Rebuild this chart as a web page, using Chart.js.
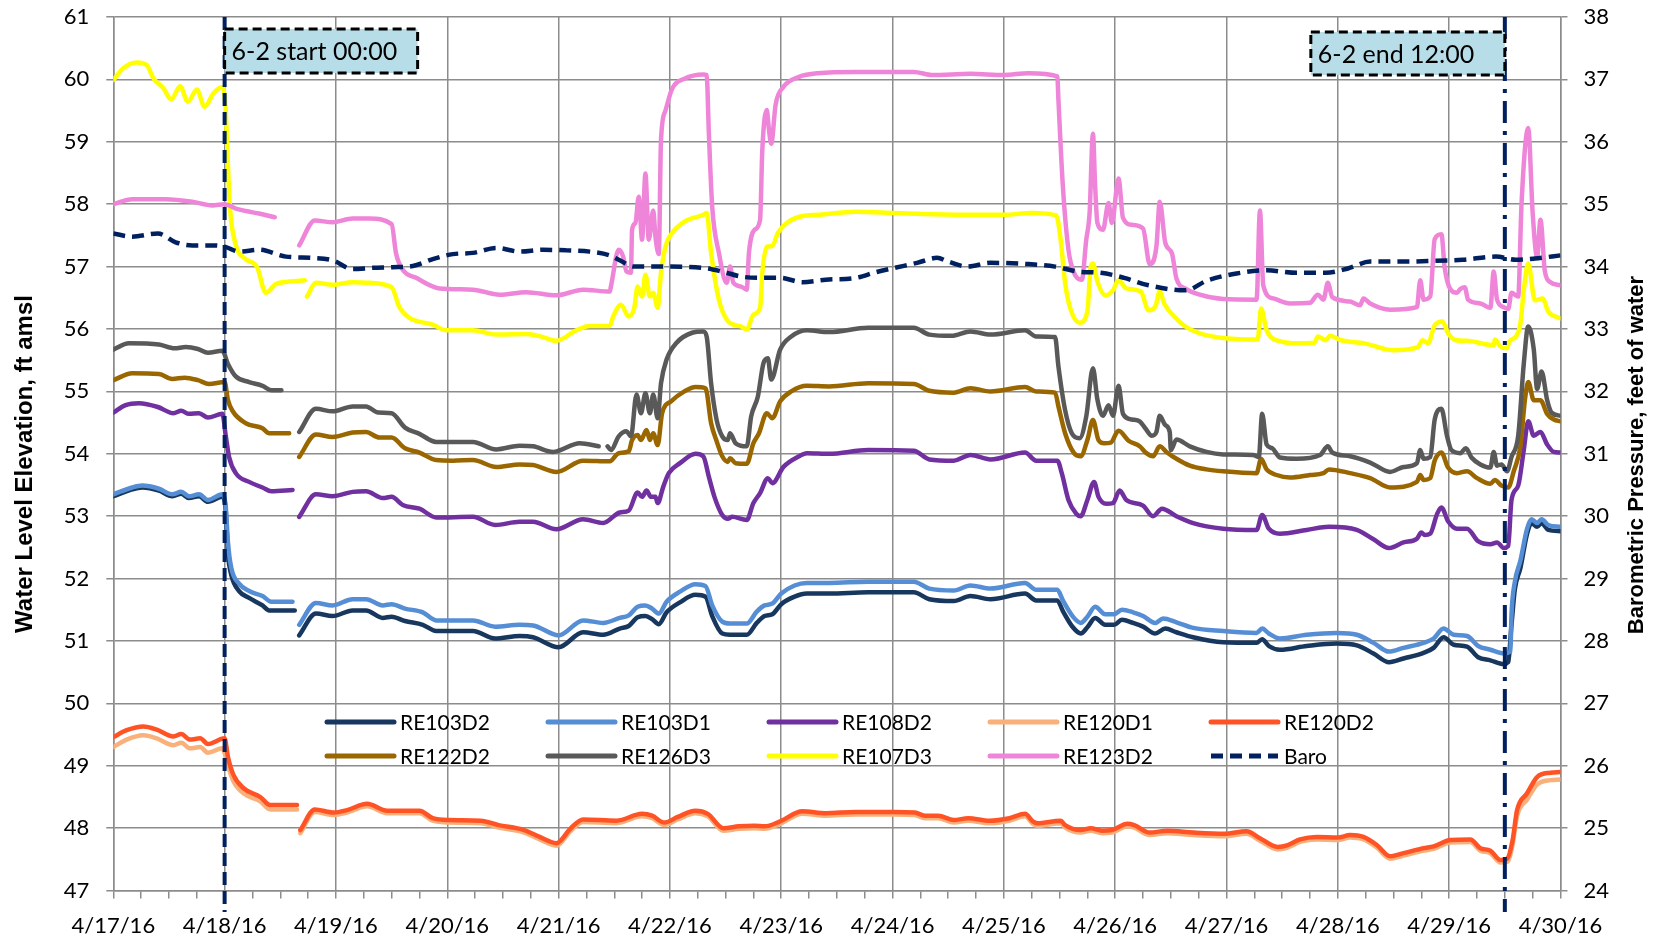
<!DOCTYPE html>
<html lang="en">
<head>
  <meta charset="UTF-8" />
  <title>Water level and barometric pressure</title>
  <script src="https://cdn.jsdelivr.net/npm/chart.js"></script>
  <style>
    html, body { margin: 0; padding: 0; background: #ffffff; }
    #wrap { width: 1654px; height: 941px; position: relative; }
  </style>
</head>
<body>
  <div id="wrap"><canvas id="levels"></canvas></div>
<script>
// x values are days after 4/17/16 00:00, y values are ft amsl (Baro: feet of water)
// a null value breaks the line where the logger has no record
const dateLabels = ['4/17/16', '4/18/16', '4/19/16', '4/20/16', '4/21/16', '4/22/16', '4/23/16',
  '4/24/16', '4/25/16', '4/26/16', '4/27/16', '4/28/16', '4/29/16', '4/30/16'];

const re103d2 = [[0,53.32],[0.17,53.43],[0.26,53.46],[0.41,53.41],[0.53,53.32],[0.61,53.36],[0.68,53.29],[0.77,53.32],[0.85,53.23],[0.98,53.31],[1.01,53.09],[1.03,52.4],[1.06,52.06],[1.13,51.8],[1.22,51.69],[1.34,51.57],[1.4,51.49],[1.63,51.49],[1.65,null],
  [1.67,51.09],[1.82,51.44],[1.97,51.4],[2.15,51.49],[2.27,51.49],[2.42,51.37],[2.5,51.39],[2.62,51.32],[2.78,51.26],[2.9,51.16],[3.23,51.16],[3.43,51.04],[3.65,51.08],[3.77,51.06],[4.0,50.9],[4.22,51.14],[4.4,51.1],[4.55,51.2],
  [4.63,51.24],[4.71,51.38],[4.78,51.4],[4.84,51.35],[4.9,51.27],[4.97,51.46],[5.09,51.62],[5.23,51.74],[5.32,51.71],[5.38,51.4],[5.47,51.12],[5.54,51.1],[5.69,51.1],[5.78,51.29],[5.85,51.4],[5.92,51.43],[6.0,51.59],[6.12,51.71],[6.23,51.76],[6.43,51.76],[6.78,51.78],[7.19,51.78],[7.33,51.67],[7.55,51.64],[7.7,51.72],[7.88,51.67],[8.19,51.76],[8.29,51.65],[8.48,51.65],[8.53,51.48],[8.62,51.22],[8.69,51.12],[8.75,51.22],[8.82,51.37],[8.91,51.26],[8.99,51.26],[9.06,51.34],[9.16,51.29],[9.25,51.23],[9.36,51.12],[9.45,51.2],[9.55,51.14],[9.7,51.06],[9.97,50.98],[10.27,50.97],[10.32,51.03],[10.38,50.92],[10.48,50.86],[10.72,50.92],[10.99,50.96],[11.17,50.93],[11.32,50.8],[11.46,50.66],[11.59,50.72],[11.77,50.81],[11.86,50.89],[11.95,51.06],[12.04,50.94],[12.16,50.91],[12.26,50.74],[12.37,50.69],[12.49,50.63],[12.53,50.66],[12.56,51.26],[12.59,51.83],[12.64,52.17],[12.7,52.72],[12.74,52.89],[12.79,52.83],[12.83,52.89],[12.89,52.78],[13.0,52.76]];

const re103d1 = [[0,53.35],[0.17,53.46],[0.26,53.49],[0.41,53.44],[0.53,53.35],[0.61,53.39],[0.68,53.32],[0.77,53.35],[0.85,53.26],[0.98,53.35],[1.01,53.15],[1.03,52.58],[1.06,52.17],[1.13,51.92],[1.22,51.8],[1.34,51.72],[1.42,51.63],[1.61,51.63],[1.64,null],
  [1.67,51.26],[1.82,51.61],[1.97,51.57],[2.15,51.67],[2.27,51.67],[2.42,51.57],[2.5,51.59],[2.62,51.52],[2.78,51.46],[2.9,51.33],[3.23,51.33],[3.43,51.23],[3.65,51.26],[3.77,51.25],[4.0,51.09],[4.22,51.33],[4.4,51.29],[4.55,51.37],
  [4.63,51.41],[4.71,51.55],[4.78,51.57],[4.84,51.52],[4.9,51.44],[4.97,51.63],[5.09,51.79],[5.23,51.91],[5.32,51.88],[5.38,51.57],[5.47,51.31],[5.54,51.28],[5.69,51.28],[5.78,51.47],[5.85,51.57],[5.92,51.6],[6.0,51.76],[6.12,51.89],[6.23,51.93],[6.43,51.93],[6.78,51.95],[7.19,51.95],[7.33,51.84],[7.55,51.81],[7.7,51.89],[7.88,51.84],[8.19,51.93],[8.29,51.82],[8.48,51.82],[8.53,51.65],[8.62,51.39],[8.69,51.29],[8.75,51.39],[8.82,51.55],[8.91,51.43],[8.99,51.43],[9.06,51.5],[9.16,51.46],[9.25,51.4],[9.36,51.29],[9.43,51.36],[9.55,51.3],[9.7,51.21],[9.97,51.16],[10.27,51.13],[10.32,51.2],[10.38,51.12],[10.48,51.04],[10.72,51.1],[10.99,51.13],[11.17,51.1],[11.32,50.97],[11.46,50.83],[11.59,50.89],[11.77,50.97],[11.86,51.04],[11.95,51.2],[12.04,51.1],[12.16,51.08],[12.26,50.92],[12.37,50.86],[12.49,50.8],[12.55,50.83],[12.56,51.43],[12.59,51.95],[12.64,52.29],[12.7,52.8],[12.74,52.95],[12.79,52.89],[12.83,52.95],[12.89,52.86],[13.0,52.83]];

const re108d2 = [[0,54.66],[0.11,54.78],[0.23,54.81],[0.4,54.75],[0.54,54.65],[0.61,54.69],[0.68,54.64],[0.77,54.65],[0.85,54.58],[0.98,54.64],[1.01,54.29],[1.04,53.95],[1.1,53.69],[1.22,53.55],[1.34,53.46],[1.42,53.4],[1.61,53.42],[1.64,null],
  [1.67,52.99],[1.82,53.35],[1.97,53.32],[2.15,53.39],[2.27,53.4],[2.42,53.29],[2.5,53.31],[2.6,53.18],[2.75,53.12],[2.9,52.98],[3.23,52.99],[3.43,52.86],[3.65,52.91],[3.77,52.91],[3.98,52.79],[4.22,52.95],[4.4,52.89],[4.55,53.06],
  [4.63,53.09],[4.71,53.38],[4.75,53.31],[4.79,53.41],[4.83,53.31],[4.87,53.31],[4.89,53.21],[4.94,53.47],[4.99,53.69],[5.09,53.85],[5.23,54.0],[5.3,53.96],[5.35,53.63],[5.4,53.31],[5.47,53.02],[5.52,52.96],[5.56,52.99],[5.69,52.94],[5.75,53.21],[5.81,53.37],[5.88,53.61],[5.92,53.53],[6.02,53.79],[6.16,53.96],[6.23,54.01],[6.43,54.0],[6.78,54.06],[7.19,54.05],[7.33,53.91],[7.55,53.89],[7.7,53.98],[7.88,53.91],[8.19,54.02],[8.29,53.89],[8.48,53.89],[8.52,53.69],[8.58,53.26],[8.65,53.04],[8.69,53.0],[8.75,53.26],[8.81,53.55],[8.85,53.31],[8.92,53.2],[8.98,53.21],[9.04,53.41],[9.1,53.26],[9.25,53.17],[9.34,53.0],[9.42,53.12],[9.55,53.0],[9.7,52.89],[9.97,52.8],[10.27,52.78],[10.32,53.02],[10.38,52.8],[10.48,52.72],[10.72,52.78],[10.92,52.83],[11.17,52.78],[11.32,52.63],[11.46,52.49],[11.59,52.58],[11.71,52.64],[11.75,52.74],[11.78,52.7],[11.83,52.72],[11.89,53.03],[11.93,53.14],[11.99,52.92],[12.07,52.8],[12.16,52.8],[12.26,52.6],[12.37,52.55],[12.43,52.58],[12.49,52.49],[12.53,52.52],[12.56,53.26],[12.62,53.49],[12.67,54.06],[12.71,54.52],[12.76,54.29],[12.82,54.35],[12.88,54.15],[12.94,54.03],[13.0,54.02]];

const re120d1 = [[0,49.3],[0.12,49.42],[0.27,49.49],[0.39,49.44],[0.54,49.33],[0.61,49.37],[0.69,49.28],[0.78,49.3],[0.85,49.21],[0.98,49.28],[1.03,49.0],[1.08,48.75],[1.17,48.56],[1.32,48.43],[1.41,48.3],[1.65,48.3],[1.66,null],
  [1.68,47.92],[1.81,48.26],[1.98,48.21],[2.1,48.25],[2.28,48.35],[2.46,48.24],[2.75,48.24],[2.87,48.12],[3.02,48.09],[3.3,48.08],[3.46,48.01],[3.69,47.93],[3.83,47.82],[3.98,47.72],[4.11,47.96],[4.22,48.1],[4.52,48.08],[4.75,48.19],[4.84,48.16],[4.95,48.05],[5.07,48.14],[5.23,48.24],[5.34,48.19],[5.48,47.96],[5.62,47.99],[5.76,48.0],[5.85,47.99],[5.99,48.07],[6.19,48.23],[6.4,48.2],[6.67,48.22],[7.0,48.22],[7.2,48.21],[7.29,48.16],[7.41,48.16],[7.55,48.09],[7.68,48.12],[7.87,48.08],[8.05,48.12],[8.19,48.19],[8.26,48.07],[8.3,48.04],[8.51,48.08],[8.55,48.01],[8.69,47.93],[8.78,47.96],[8.88,47.92],[8.97,47.93],[9.11,48.03],[9.17,48.01],[9.31,47.89],[9.47,47.92],[9.7,47.89],[9.98,47.87],[10.18,47.91],[10.3,47.8],[10.46,47.66],[10.55,47.69],[10.66,47.78],[10.81,47.82],[11.0,47.81],[11.11,47.85],[11.23,47.82],[11.35,47.69],[11.47,47.51],[11.59,47.56],[11.77,47.64],[11.86,47.67],[12.01,47.77],[12.19,47.78],[12.28,47.64],[12.37,47.6],[12.46,47.45],[12.52,47.46],[12.57,47.74],[12.61,48.2],[12.7,48.46],[12.79,48.7],[12.91,48.77],[13.0,48.78]];

const re120d2 = [[0,49.46],[0.12,49.57],[0.27,49.63],[0.39,49.58],[0.54,49.47],[0.61,49.51],[0.69,49.42],[0.78,49.44],[0.85,49.35],[1.0,49.44],[1.03,49.14],[1.08,48.85],[1.17,48.64],[1.32,48.5],[1.41,48.37],[1.65,48.37],[1.66,null],
  [1.68,47.97],[1.81,48.3],[1.98,48.25],[2.1,48.29],[2.28,48.39],[2.46,48.28],[2.75,48.28],[2.87,48.16],[3.02,48.13],[3.3,48.12],[3.46,48.05],[3.69,47.97],[3.83,47.86],[3.98,47.76],[4.11,48.0],[4.22,48.14],[4.52,48.12],[4.75,48.23],[4.84,48.2],[4.95,48.09],[5.07,48.18],[5.23,48.28],[5.34,48.23],[5.48,48.0],[5.62,48.03],[5.76,48.04],[5.85,48.03],[5.99,48.11],[6.19,48.27],[6.4,48.24],[6.67,48.26],[7.0,48.26],[7.2,48.25],[7.29,48.2],[7.41,48.2],[7.55,48.13],[7.68,48.16],[7.87,48.12],[8.05,48.16],[8.19,48.23],[8.26,48.11],[8.3,48.08],[8.51,48.12],[8.55,48.05],[8.69,47.97],[8.78,48.0],[8.88,47.96],[8.97,47.97],[9.11,48.07],[9.17,48.05],[9.31,47.93],[9.47,47.96],[9.7,47.93],[9.98,47.91],[10.18,47.95],[10.3,47.84],[10.46,47.7],[10.55,47.73],[10.66,47.82],[10.81,47.86],[11.0,47.85],[11.11,47.89],[11.23,47.86],[11.35,47.73],[11.47,47.55],[11.59,47.6],[11.77,47.68],[11.86,47.71],[12.01,47.81],[12.19,47.82],[12.28,47.68],[12.37,47.64],[12.46,47.49],[12.52,47.51],[12.57,47.81],[12.61,48.29],[12.7,48.56],[12.79,48.82],[12.91,48.89],[13.0,48.9]];

const re122d2 = [[0,55.18],[0.17,55.29],[0.41,55.28],[0.53,55.2],[0.64,55.22],[0.76,55.18],[0.86,55.12],[1.0,55.15],[1.03,54.86],[1.07,54.69],[1.19,54.49],[1.34,54.41],[1.4,54.33],[1.58,54.33],[1.62,null],
  [1.67,53.95],[1.82,54.31],[1.97,54.27],[2.15,54.34],[2.27,54.35],[2.39,54.26],[2.5,54.26],[2.62,54.09],[2.75,54.02],[2.9,53.9],[3.05,53.89],[3.23,53.9],[3.44,53.79],[3.65,53.83],[3.77,53.82],[3.98,53.71],[4.22,53.89],[4.46,53.88],[4.54,54.01],[4.63,54.04],[4.66,54.22],[4.71,54.3],[4.74,54.22],[4.79,54.38],[4.82,54.22],[4.85,54.33],[4.89,54.14],[4.93,54.65],[5.01,54.84],[5.13,55.0],[5.23,55.07],[5.32,55.05],[5.37,54.49],[5.42,54.2],[5.47,53.96],[5.52,53.87],[5.54,53.93],[5.59,53.85],[5.69,53.84],[5.75,54.17],[5.8,54.33],[5.87,54.65],[5.92,54.57],[5.99,54.84],[6.09,55.0],[6.23,55.09],[6.43,55.08],[6.78,55.13],[7.19,55.12],[7.33,55.01],[7.55,54.98],[7.7,55.05],[7.88,55.0],[8.19,55.07],[8.29,55.0],[8.46,54.98],[8.49,54.76],[8.55,54.33],[8.63,54.01],[8.69,53.96],[8.75,54.22],[8.8,54.54],[8.85,54.22],[8.9,54.17],[8.96,54.18],[9.03,54.37],[9.12,54.21],[9.22,54.12],[9.28,54.01],[9.34,53.96],[9.4,54.12],[9.46,54.03],[9.55,53.92],[9.67,53.81],[9.82,53.75],[9.97,53.72],[10.27,53.69],[10.31,53.92],[10.36,53.75],[10.45,53.66],[10.57,53.62],[10.75,53.66],[10.87,53.69],[10.92,53.75],[11.11,53.69],[11.29,53.61],[11.47,53.46],[11.71,53.55],[11.74,53.66],[11.77,53.58],[11.83,53.61],[11.87,53.89],[11.93,54.02],[11.99,53.78],[12.07,53.69],[12.16,53.72],[12.25,53.61],[12.37,53.52],[12.41,53.58],[12.47,53.49],[12.53,53.46],[12.58,53.72],[12.64,54.12],[12.68,54.86],[12.71,55.15],[12.76,54.86],[12.82,54.86],[12.88,54.64],[12.94,54.55],[13.0,54.52]];

const re126d3 = [[0,55.67],[0.14,55.77],[0.41,55.75],[0.55,55.69],[0.65,55.71],[0.76,55.68],[0.85,55.62],[0.98,55.65],[1.03,55.44],[1.1,55.24],[1.22,55.15],[1.34,55.09],[1.42,55.02],[1.51,55.02],[1.55,null],
  [1.67,54.35],[1.82,54.72],[1.97,54.68],[2.15,54.76],[2.27,54.76],[2.38,54.66],[2.5,54.65],[2.62,54.42],[2.75,54.32],[2.9,54.19],[3.23,54.19],[3.44,54.07],[3.65,54.13],[3.77,54.12],[3.95,54.03],[4.19,54.17],[4.36,54.12],[4.4,null],
  [4.44,54.12],[4.47,54.06],[4.54,54.28],[4.61,54.36],[4.65,54.28],[4.7,54.95],[4.74,54.65],[4.78,54.97],[4.82,54.65],[4.85,54.95],[4.89,54.57],[4.92,55.13],[4.97,55.51],[5.06,55.78],[5.2,55.94],[5.3,55.96],[5.33,55.88],[5.37,55.13],[5.42,54.54],[5.47,54.28],[5.52,54.22],[5.54,54.33],[5.59,54.17],[5.69,54.12],[5.73,54.6],[5.79,54.92],[5.84,55.45],[5.88,55.53],[5.91,55.19],[5.99,55.67],[6.09,55.88],[6.23,55.98],[6.43,55.95],[6.78,56.02],[7.19,56.02],[7.33,55.91],[7.53,55.89],[7.7,55.96],[7.88,55.91],[8.19,55.98],[8.29,55.88],[8.46,55.87],[8.49,55.4],[8.55,54.7],[8.61,54.33],[8.68,54.25],[8.74,54.6],[8.8,55.37],[8.84,54.87],[8.89,54.61],[8.94,54.78],[8.98,54.61],[9.03,55.09],[9.07,54.64],[9.15,54.55],[9.22,54.52],[9.27,54.41],[9.33,54.29],[9.37,54.35],[9.4,54.61],[9.45,54.46],[9.49,54.35],[9.5,54.06],[9.55,54.23],[9.67,54.12],[9.82,54.03],[9.97,53.99],[10.24,53.98],[10.29,53.95],[10.32,54.64],[10.36,54.15],[10.41,54.09],[10.48,53.94],[10.63,53.92],[10.84,53.98],[10.91,54.12],[10.95,54.02],[11.11,53.96],[11.29,53.86],[11.47,53.71],[11.59,53.79],[11.71,53.85],[11.74,54.06],[11.77,53.92],[11.83,53.95],[11.87,54.55],[11.93,54.72],[11.98,54.29],[12.02,54.06],[12.1,54.01],[12.15,54.09],[12.2,53.94],[12.28,53.83],[12.37,53.78],[12.4,54.03],[12.43,53.81],[12.47,53.83],[12.52,53.72],[12.56,53.95],[12.62,54.29],[12.67,55.44],[12.71,56.04],[12.76,55.67],[12.79,55.04],[12.83,55.32],[12.88,54.86],[12.92,54.66],[13.0,54.61]];

const re107d3 = [[0,59.99],[0.09,60.18],[0.21,60.27],[0.3,60.23],[0.36,60.02],[0.45,59.86],[0.52,59.68],[0.6,59.89],[0.67,59.64],[0.75,59.84],[0.82,59.56],[0.9,59.78],[0.98,59.88],[1.01,59.5],[1.03,58.6],[1.05,57.9],[1.1,57.35],[1.19,57.12],[1.29,57.0],[1.37,56.58],[1.46,56.72],[1.58,56.76],[1.72,56.78],[1.73,null],
  [1.74,56.52],[1.82,56.74],[1.97,56.71],[2.15,56.75],[2.3,56.74],[2.5,56.67],[2.57,56.35],[2.66,56.18],[2.87,56.07],[2.99,55.98],[3.23,55.98],[3.44,55.91],[3.71,55.92],[3.86,55.87],[3.98,55.81],[4.16,55.98],[4.28,56.05],[4.46,56.05],[4.49,56.2],[4.56,56.39],[4.63,56.2],[4.68,56.34],[4.71,56.68],[4.75,56.52],[4.78,56.87],[4.82,56.52],[4.85,56.58],[4.89,56.34],[4.92,56.9],[4.96,57.32],[5.02,57.54],[5.13,57.72],[5.3,57.83],[5.33,57.86],[5.37,57.22],[5.44,56.47],[5.51,56.15],[5.57,56.07],[5.64,56.04],[5.69,55.99],[5.75,56.23],[5.81,56.34],[5.83,56.9],[5.87,57.32],[5.92,57.33],[5.97,57.54],[6.05,57.7],[6.19,57.81],[6.33,57.83],[6.67,57.88],[7.02,57.86],[7.36,57.84],[7.7,57.83],[8.0,57.83],[8.25,57.86],[8.47,57.82],[8.51,57.43],[8.55,56.74],[8.6,56.31],[8.68,56.1],[8.75,56.28],[8.78,57.0],[8.8,57.05],[8.84,56.76],[8.91,56.54],[8.98,56.62],[9.03,56.78],[9.1,56.65],[9.23,56.6],[9.3,56.3],[9.36,56.36],[9.4,56.6],[9.44,56.41],[9.53,56.2],[9.63,56.04],[9.76,55.93],[9.99,55.85],[10.28,55.83],[10.31,56.33],[10.36,55.98],[10.49,55.8],[10.63,55.77],[10.79,55.78],[10.82,55.88],[10.89,55.82],[10.93,55.89],[11.03,55.82],[11.24,55.77],[11.49,55.66],[11.72,55.71],[11.76,55.82],[11.81,55.77],[11.87,56.06],[11.94,56.12],[11.99,55.93],[12.06,55.82],[12.16,55.81],[12.4,55.74],[12.41,55.83],[12.46,55.72],[12.52,55.69],[12.54,55.8],[12.6,55.88],[12.64,56.09],[12.67,56.62],[12.71,57.05],[12.77,56.46],[12.84,56.49],[12.89,56.28],[13.0,56.17]];

const re123d2 = [[0,58.0],[0.17,58.08],[0.47,58.08],[0.71,58.04],[0.89,57.98],[1.0,58.0],[1.1,57.93],[1.19,57.89],[1.31,57.85],[1.45,57.79],[1.5,null],
  [1.67,57.34],[1.81,57.74],[1.97,57.71],[2.15,57.77],[2.3,57.77],[2.5,57.68],[2.54,57.21],[2.6,56.95],[2.72,56.82],[2.93,56.65],[3.23,56.63],[3.47,56.55],[3.71,56.59],[3.98,56.54],[4.22,56.63],[4.46,56.6],[4.47,56.68],[4.54,57.27],[4.58,57.16],[4.61,56.92],[4.65,56.9],[4.66,57.59],[4.69,57.7],[4.72,58.12],[4.75,57.43],[4.78,58.49],[4.81,57.43],[4.85,57.9],[4.87,57.48],[4.9,57.2],[4.92,59.03],[4.96,59.5],[5.02,59.85],[5.13,60.01],[5.3,60.08],[5.33,60.07],[5.35,59.13],[5.38,57.96],[5.44,57.22],[5.51,56.74],[5.54,57.0],[5.57,56.74],[5.64,56.68],[5.69,56.63],[5.71,57.22],[5.76,57.59],[5.81,57.75],[5.83,58.87],[5.87,59.51],[5.89,59.19],[5.91,58.97],[5.95,59.6],[6.02,59.88],[6.16,60.04],[6.33,60.1],[6.67,60.12],[7.02,60.12],[7.19,60.12],[7.36,60.07],[7.7,60.09],[8.0,60.07],[8.22,60.1],[8.48,60.05],[8.49,59.67],[8.53,58.28],[8.58,57.27],[8.63,56.9],[8.7,56.79],[8.74,57.43],[8.77,57.86],[8.8,59.13],[8.82,58.28],[8.84,57.7],[8.89,57.59],[8.94,58.02],[8.97,57.7],[9.03,58.41],[9.07,57.78],[9.15,57.67],[9.25,57.61],[9.31,57.04],[9.37,57.32],[9.4,58.04],[9.45,57.38],[9.51,57.21],[9.55,56.81],[9.64,56.64],[9.76,56.55],[9.97,56.48],[10.27,56.47],[10.3,57.9],[10.33,56.7],[10.42,56.49],[10.57,56.41],[10.75,56.42],[10.82,56.55],[10.87,56.47],[10.91,56.74],[10.95,56.51],[11.11,56.44],[11.2,56.38],[11.23,56.49],[11.29,56.41],[11.47,56.31],[11.71,56.35],[11.74,56.78],[11.77,56.47],[11.83,56.52],[11.87,57.44],[11.93,57.52],[11.96,56.98],[12.01,56.64],[12.07,56.58],[12.1,56.64],[12.14,56.67],[12.17,56.47],[12.28,56.41],[12.37,56.34],[12.4,56.92],[12.43,56.47],[12.49,56.35],[12.53,56.32],[12.56,56.58],[12.62,56.52],[12.65,58.01],[12.71,59.22],[12.75,57.86],[12.79,57.15],[12.82,57.75],[12.86,56.92],[12.91,56.75],[13.0,56.7]];

// barometric pressure, read on the right axis
const baro = [[0,34.53],[0.17,34.48],[0.4,34.53],[0.56,34.39],[0.71,34.34],[0.89,34.34],[1.0,34.32],[1.13,34.24],[1.31,34.27],[1.55,34.16],[1.79,34.14],[1.97,34.1],[2.15,33.96],[2.33,33.98],[2.51,33.99],[2.69,34.01],[2.87,34.12],[3.05,34.2],[3.23,34.22],[3.44,34.3],[3.65,34.24],[3.86,34.27],[4.07,34.26],[4.28,34.24],[4.46,34.18],[4.54,34.11],[4.68,34.0],[4.96,34.0],[5.3,33.98],[5.47,33.92],[5.64,33.84],[5.81,33.82],[5.99,33.82],[6.19,33.75],[6.4,33.79],[6.67,33.82],[6.85,33.91],[7.02,33.98],[7.22,34.06],[7.4,34.14],[7.5,34.08],[7.67,34.0],[7.88,34.06],[8.22,34.04],[8.46,34.0],[8.67,33.92],[8.87,33.9],[9.08,33.82],[9.3,33.7],[9.63,33.62],[9.83,33.78],[10.09,33.89],[10.36,33.94],[10.63,33.9],[10.89,33.9],[11.09,33.97],[11.29,34.08],[11.56,34.08],[11.83,34.09],[12.12,34.11],[12.42,34.16],[12.6,34.11],[12.77,34.13],[13.0,34.18]];

const seriesNames = ['RE103D2', 'RE103D1', 'RE108D2', 'RE120D1', 'RE120D2',
  'RE122D2', 'RE126D3', 'RE107D3', 'RE123D2', 'Baro'];
const seriesData = [re103d2, re103d1, re108d2, re120d1, re120d2, re122d2, re126d3, re107d3, re123d2, baro];
const seriesColors = ['#17375e', '#558ed5', '#7030a0', '#fab07a', '#ff5326',
  '#996600', '#595959', '#ffff00', '#ef85d9', '#002060'];

const eventStart = 1.0;   // 6-2 start 00:00 on 4/18
const eventEnd = 12.5;    // 6-2 end 12:00 on 4/29
const gridGray = '#8c8c8c';
const baroDash = [12, 7];

function toPoints(arr) {
  return arr.map(p => ({ x: p[0], y: p[1] }));
}

function dashedBox(ctx, x, y, w, h, text) {
  ctx.save();
  ctx.fillStyle = '#b7dee8';
  ctx.fillRect(x, y, w, h);
  ctx.setLineDash([9, 5]);
  ctx.lineWidth = 3;
  ctx.strokeStyle = '#000000';
  ctx.strokeRect(x, y, w, h);
  ctx.setLineDash([]);
  ctx.fillStyle = '#000000';
  ctx.font = '25px Lato';
  ctx.textAlign = 'left';
  ctx.textBaseline = 'middle';
  ctx.fillText(text, x + 7, y + h / 2 + 1);
  ctx.restore();
}

function eventLine(ctx, x, top, bottom, dash) {
  ctx.save();
  ctx.strokeStyle = '#002060';
  ctx.lineWidth = 4;
  ctx.setLineDash(dash);
  ctx.beginPath();
  ctx.moveTo(x, top);
  ctx.lineTo(x, bottom);
  ctx.stroke();
  ctx.restore();
}

// keep the plot box fixed: width of the side axes, no extra room for end labels
function fixSide(width) {
  return s => {
    s.width = width;
    s.paddingTop = 0;
    s.paddingBottom = 0;
  };
}

const overlayPlugin = {
  id: 'overlay',
  afterDatasetsDraw(chart) {
    const ctx = chart.ctx;
    const xs = chart.scales.x;
    const area = chart.chartArea;
    const x1 = xs.getPixelForValue(eventStart);
    const x2 = xs.getPixelForValue(eventEnd);
    eventLine(ctx, x1, area.top, 912, [13, 6]);
    eventLine(ctx, x2, area.top, 912, [22, 8, 4, 8]);
    dashedBox(ctx, x1, 29, 193, 44, '6-2 start 00:00');
    dashedBox(ctx, x2 - 194, 32, 194, 43, '6-2 end 12:00');
  },
  afterDraw(chart) {
    const ctx = chart.ctx;
    // legend sits inside the plot, two rows of five
    chart.data.datasets.forEach((ds, i) => {
      const x0 = 327 + (i % 5) * 221;
      const y0 = 722 + Math.floor(i / 5) * 34;
      ctx.save();
      ctx.strokeStyle = ds.borderColor;
      ctx.lineWidth = 5;
      if (ds.borderDash) {
        ctx.setLineDash(ds.borderDash);
        ctx.lineCap = 'butt';
      } else {
        ctx.lineCap = 'round';
      }
      ctx.beginPath();
      ctx.moveTo(x0, y0);
      ctx.lineTo(x0 + 67, y0);
      ctx.stroke();
      ctx.setLineDash([]);
      ctx.fillStyle = '#000000';
      ctx.font = '21px Lato';
      ctx.textAlign = 'left';
      ctx.textBaseline = 'middle';
      ctx.fillText(ds.label, x0 + 73, y0 + 1);
      ctx.restore();
    });

    // axis titles
    ctx.save();
    ctx.fillStyle = '#000000';
    ctx.textAlign = 'center';
    ctx.textBaseline = 'alphabetic';
    ctx.font = 'bold 24px "Liberation Sans"';
    ctx.translate(32, 464);
    ctx.rotate(-Math.PI / 2);
    ctx.fillText('Water Level Elevation, ft amsl', 0, 0);
    ctx.restore();

    ctx.save();
    ctx.fillStyle = '#000000';
    ctx.textAlign = 'center';
    ctx.textBaseline = 'alphabetic';
    ctx.font = 'bold 22px "Liberation Sans"';
    ctx.translate(1643, 455);
    ctx.rotate(-Math.PI / 2);
    ctx.fillText('Barometric Pressure, feet of water', 0, 0);
    ctx.restore();
  }
};

function buildChart() {
  Chart.defaults.font.family = 'Lato';
  Chart.defaults.color = '#000000';

  const datasets = seriesNames.map((name, i) => {
    const isBaro = name === 'Baro';
    return {
      label: name,
      data: toPoints(seriesData[i]),
      yAxisID: isBaro ? 'y2' : 'y',
      borderColor: seriesColors[i],
      backgroundColor: seriesColors[i],
      borderWidth: 4.5,
      borderDash: isBaro ? baroDash : undefined,
      borderCapStyle: isBaro ? 'butt' : 'round',
      borderJoinStyle: 'round',
      pointRadius: 0,
      cubicInterpolationMode: 'monotone',
      spanGaps: false,
      fill: false,
      order: 20 - i
    };
  });

  new Chart(document.getElementById('levels'), {
    type: 'line',
    data: { datasets: datasets },
    options: {
      responsive: true,
      maintainAspectRatio: false,
      animation: false,
      events: [],
      layout: { padding: { top: 17, left: 0, right: 0, bottom: 0 } },
      plugins: {
        legend: { display: false },
        tooltip: { enabled: false },
        title: { display: false }
      },
      scales: {
        x: {
          type: 'linear',
          min: 0,
          max: 13,
          afterFit: s => { s.height = 50.4; },
          border: { color: gridGray, width: 1.5 },
          grid: {
            color: c => (c.tick && Number.isInteger(c.tick.value)) ? gridGray : 'rgba(0,0,0,0)',
            tickColor: gridGray,
            lineWidth: 1.5,
            tickLength: 8
          },
          ticks: {
            stepSize: 0.25,
            autoSkip: false,
            maxRotation: 0,
            minRotation: 0,
            padding: 14,
            font: { size: 22 },
            callback: v => Number.isInteger(v) ? dateLabels[v] : ''
          }
        },
        y: {
          position: 'left',
          min: 47,
          max: 61,
          afterFit: fixSide(113.3),
          border: { color: gridGray, width: 1.5 },
          grid: { color: gridGray, lineWidth: 1.5, tickLength: 7 },
          ticks: { stepSize: 1, padding: 17, font: { size: 22 } }
        },
        y2: {
          position: 'right',
          min: 24,
          max: 38,
          afterFit: fixSide(93.5),
          border: { color: gridGray, width: 1.5 },
          grid: { drawOnChartArea: false, color: gridGray, lineWidth: 1.5, tickLength: 7 },
          ticks: { stepSize: 1, padding: 16, font: { size: 22 } }
        }
      }
    },
    plugins: [overlayPlugin]
  });
}

window.addEventListener('DOMContentLoaded', buildChart);
</script>
</body>
</html>
